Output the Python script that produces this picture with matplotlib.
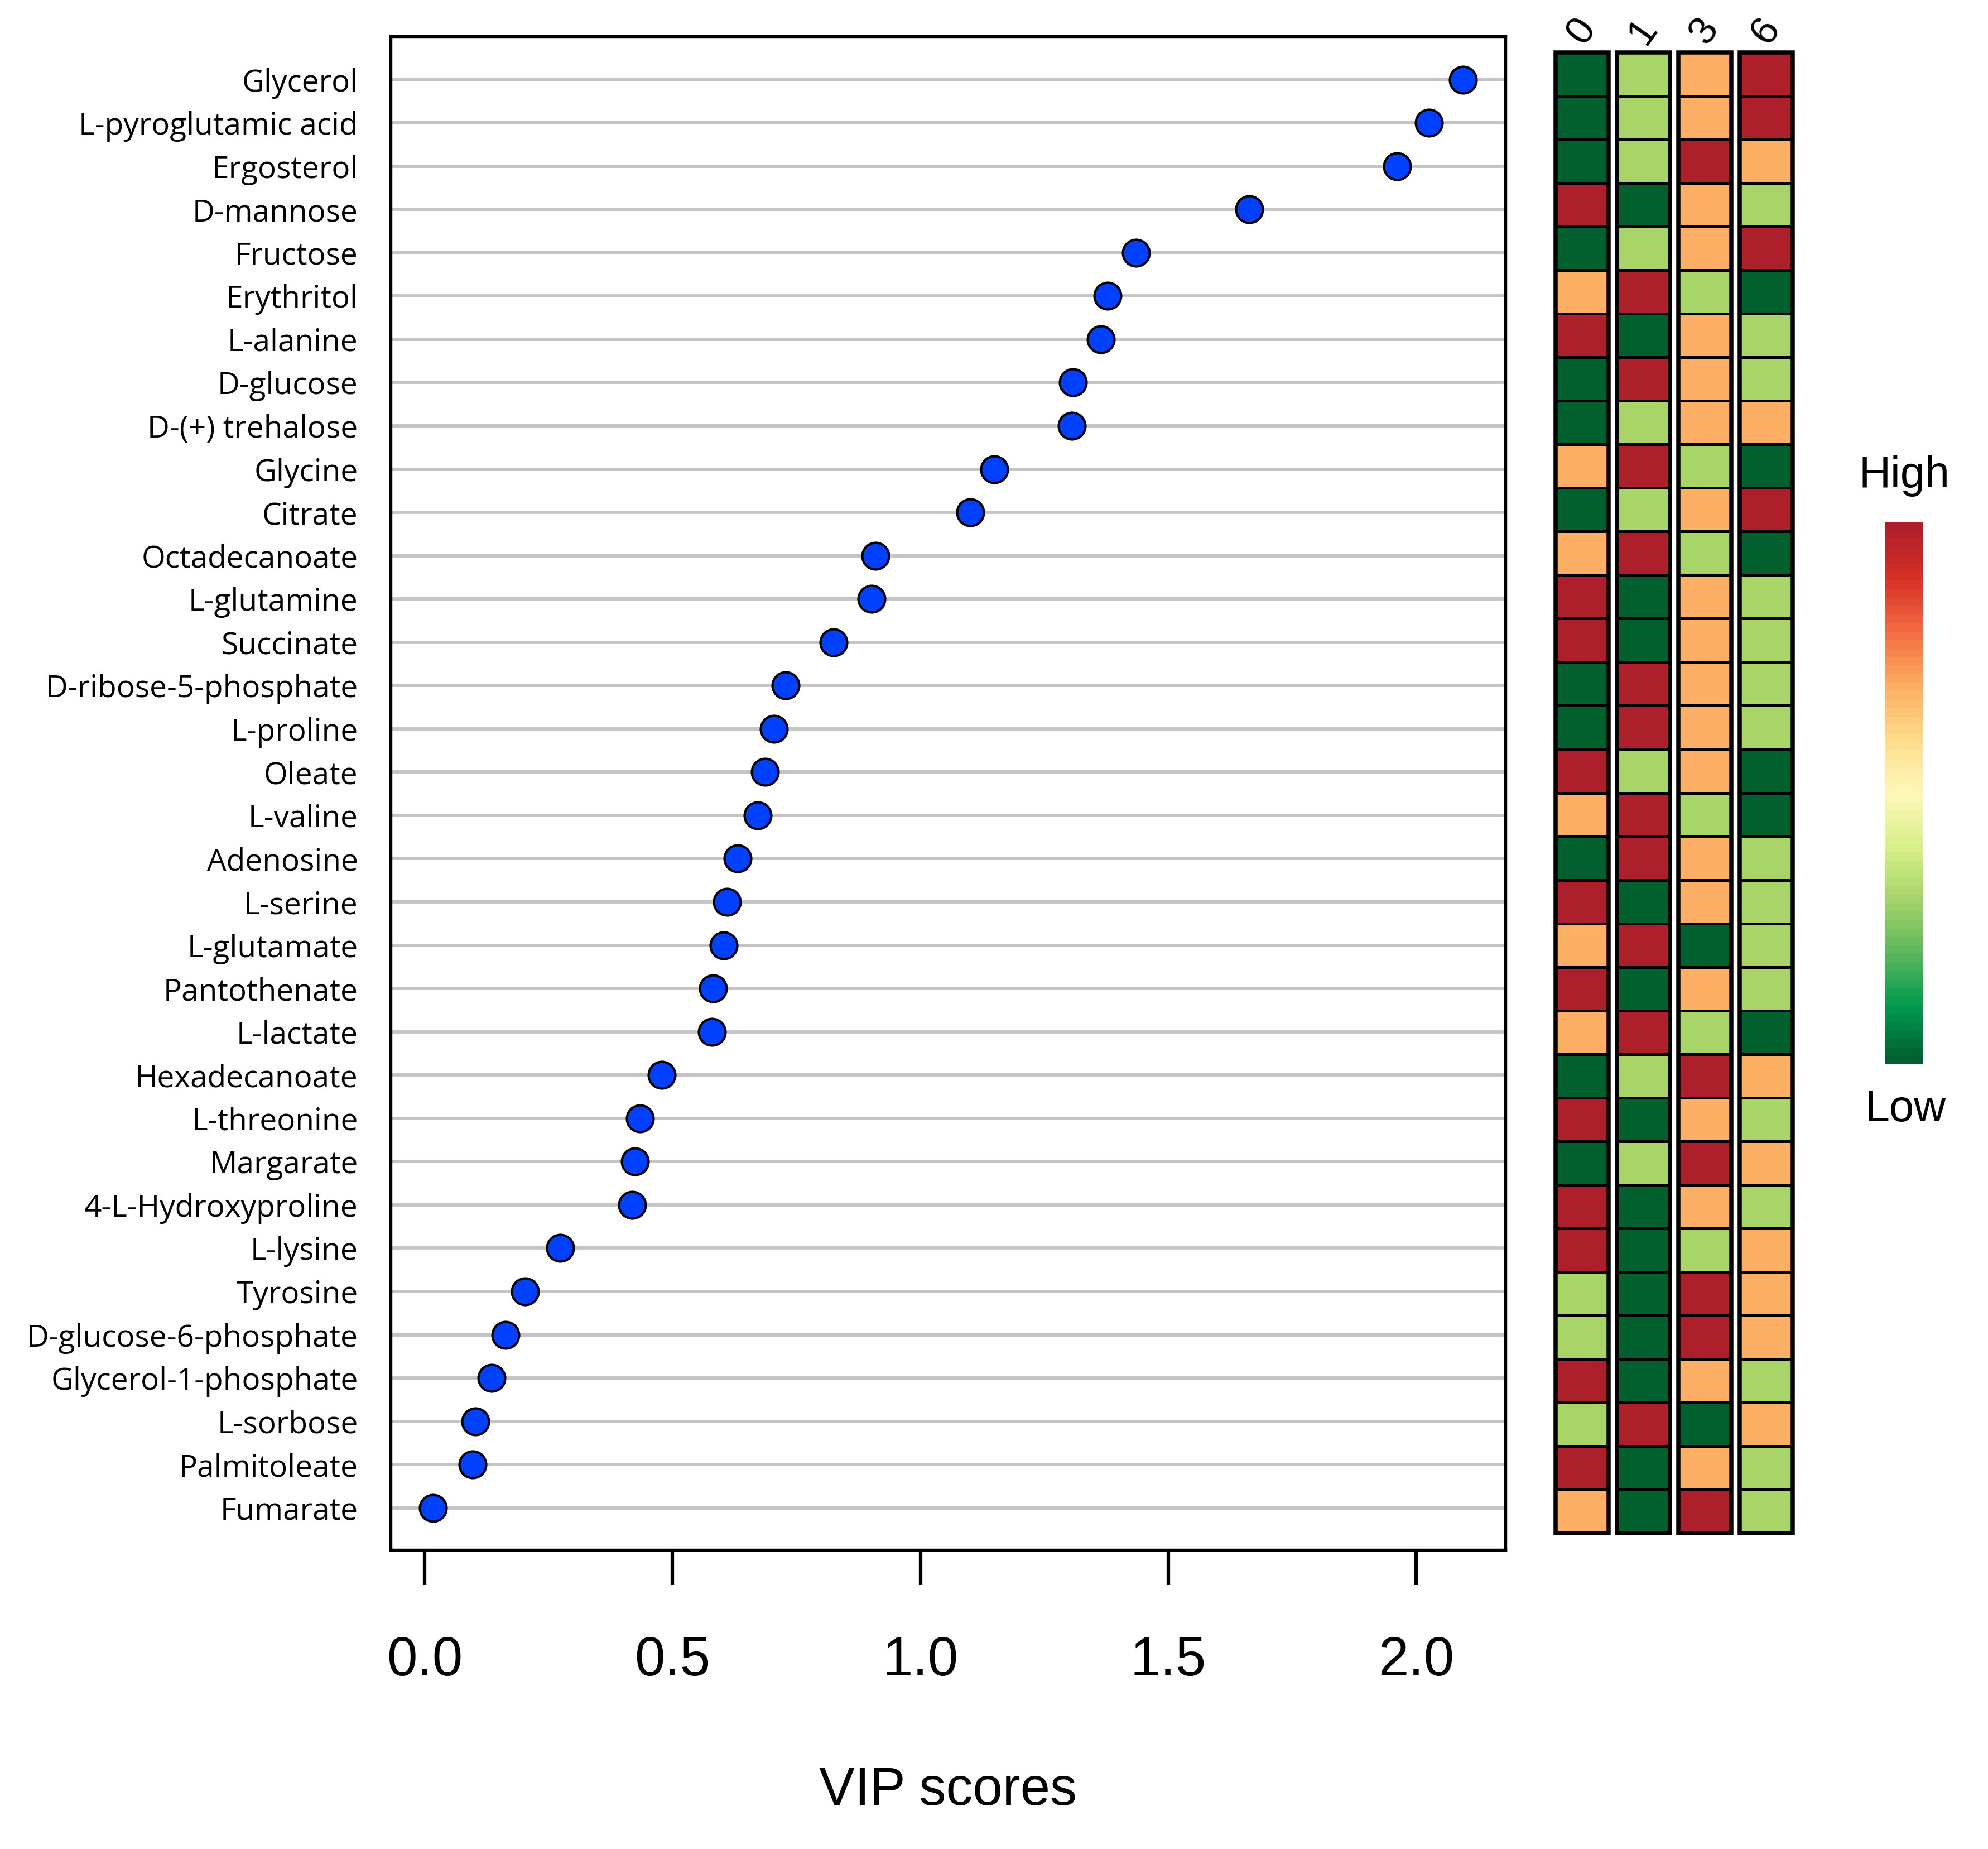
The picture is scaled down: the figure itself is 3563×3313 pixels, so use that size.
import numpy as np
import matplotlib
matplotlib.use('Agg')
import matplotlib.pyplot as plt
from matplotlib.colors import ListedColormap, LinearSegmentedColormap
from matplotlib.patches import Rectangle

# metabolites, top to bottom
metabolites = ['Glycerol', 'L-pyroglutamic acid', 'Ergosterol', 'D-mannose', 'Fructose',
               'Erythritol', 'L-alanine', 'D-glucose', 'D-(+) trehalose', 'Glycine',
               'Citrate', 'Octadecanoate', 'L-glutamine', 'Succinate', 'D-ribose-5-phosphate',
               'L-proline', 'Oleate', 'L-valine', 'Adenosine', 'L-serine',
               'L-glutamate', 'Pantothenate', 'L-lactate', 'Hexadecanoate', 'L-threonine',
               'Margarate', '4-L-Hydroxyproline', 'L-lysine', 'Tyrosine', 'D-glucose-6-phosphate',
               'Glycerol-1-phosphate', 'L-sorbose', 'Palmitoleate', 'Fumarate']
vip = [2.094, 2.026, 1.962, 1.663, 1.435,
       1.377, 1.364, 1.308, 1.305, 1.149,
       1.101, 0.909, 0.902, 0.825, 0.728,
       0.705, 0.687, 0.672, 0.631, 0.610,
       0.603, 0.582, 0.580, 0.478, 0.434,
       0.424, 0.419, 0.273, 0.202, 0.163,
       0.135, 0.102, 0.097, 0.017]

# relative level per time point (1 = low ... 4 = high)
time_labels = ['0', '1', '3', '6']
level_t0 = [1, 1, 1, 4, 1, 3, 4, 1, 1, 3, 1, 3, 4, 4, 1, 1, 4,
            3, 1, 4, 3, 4, 3, 1, 4, 1, 4, 4, 2, 2, 4, 2, 4, 3]
level_t1 = [2, 2, 2, 1, 2, 4, 1, 4, 2, 4, 2, 4, 1, 1, 4, 4, 2,
            4, 4, 1, 4, 1, 4, 2, 1, 2, 1, 1, 1, 1, 1, 4, 1, 1]
level_t3 = [3, 3, 4, 3, 3, 2, 3, 3, 3, 2, 3, 2, 3, 3, 3, 3, 3,
            2, 3, 3, 1, 3, 2, 4, 3, 4, 3, 2, 4, 4, 3, 1, 3, 4]
level_t6 = [4, 4, 3, 2, 4, 1, 2, 2, 3, 1, 4, 1, 2, 2, 2, 2, 1,
            1, 2, 2, 2, 2, 1, 3, 2, 3, 2, 3, 3, 3, 2, 3, 2, 2]

level_colors = ['#02602F', '#A8D468', '#FDB065', '#AE1F2C']
ramp_colors = ['#005E30', '#009A4E', '#5DB75E', '#A6D46A', '#D9EF8B', '#FEF8BB',
               '#FEDC8C', '#FDAE61', '#F46D43', '#D73027', '#AE1F2C']

W, H = 3563, 3313
fig = plt.figure(figsize=(W / 300, H / 300), dpi=300)

# dot chart
ax = fig.add_axes([700 / W, 1 - 2777 / H, (2698 - 700) / W, (2777 - 65) / H])
n = len(metabolites)
ypos = np.arange(n, 0, -1)
ax.scatter(vip, ypos, s=11.5 ** 2, c='#0040FF', edgecolors='black', linewidths=1.0, zorder=3)
ax.set_xlim(-0.0687, 2.180)
ax.set_ylim(0.03, 35.0)
ax.set_yticks(ypos)
ax.set_yticklabels(metabolites, fontsize=13.2, family='Open Sans')
ax.tick_params(axis='y', length=0, pad=14)
ax.grid(axis='y', color='#C4C4C4', linewidth=1.4, zorder=0)
ax.set_axisbelow(True)
ax.set_xticks([0, 0.5, 1.0, 1.5, 2.0])
ax.set_xticklabels(['0.0', '0.5', '1.0', '1.5', '2.0'], fontsize=23.5, family='Liberation Sans')
ax.tick_params(axis='x', length=15, width=1.5, pad=22)
for s in ax.spines.values():
    s.set_linewidth(1.3)
fig.text(1699 / W, 1 - 3209 / H, 'VIP scores', fontsize=23, family='Liberation Sans',
         ha='center', va='center')

# heatmap columns
axh = fig.add_axes([2788 / W, 1 - 2747 / H, (3213 - 2788) / W, (2747 - 94) / H])
cmap = ListedColormap(level_colors)
pitch = 1.158
for j, col in enumerate([level_t0, level_t1, level_t3, level_t6]):
    x0 = j * pitch
    C = np.array(col).reshape(-1, 1)
    axh.pcolormesh([x0, x0 + 1], np.arange(n + 1), C, cmap=cmap, vmin=0.5, vmax=4.5,
                   edgecolors='black', linewidth=1.1)
    axh.add_patch(Rectangle((x0, 0), 1, n, fill=False, edgecolor='black', linewidth=1.8,
                            zorder=4, clip_on=False))
    axh.annotate(time_labels[j], xy=(x0 + 0.5, 1), xycoords=('data', 'axes fraction'),
                 xytext=(0, 9), textcoords='offset points', rotation=55,
                 ha='center', va='center', fontsize=17, family='Liberation Sans')
axh.set_xlim(0, 3 * pitch + 1)
axh.set_ylim(n, 0)
axh.axis('off')

# colour key
axc = fig.add_axes([3378 / W, 1 - 1907 / H, (3446 - 3378) / W, (1907 - 935) / H])
ramp = LinearSegmentedColormap.from_list('ramp', ramp_colors, N=64)
axc.imshow(np.linspace(1, 0, 256).reshape(-1, 1), cmap=ramp, aspect='auto')
axc.axis('off')
fig.text(3413 / W, 1 - 853 / H, 'High', fontsize=19, family='Liberation Sans',
         ha='center', va='center')
fig.text(3415 / W, 1 - 1988 / H, 'Low', fontsize=19, family='Liberation Sans',
         ha='center', va='center')

fig.savefig('out.png', dpi=300)
